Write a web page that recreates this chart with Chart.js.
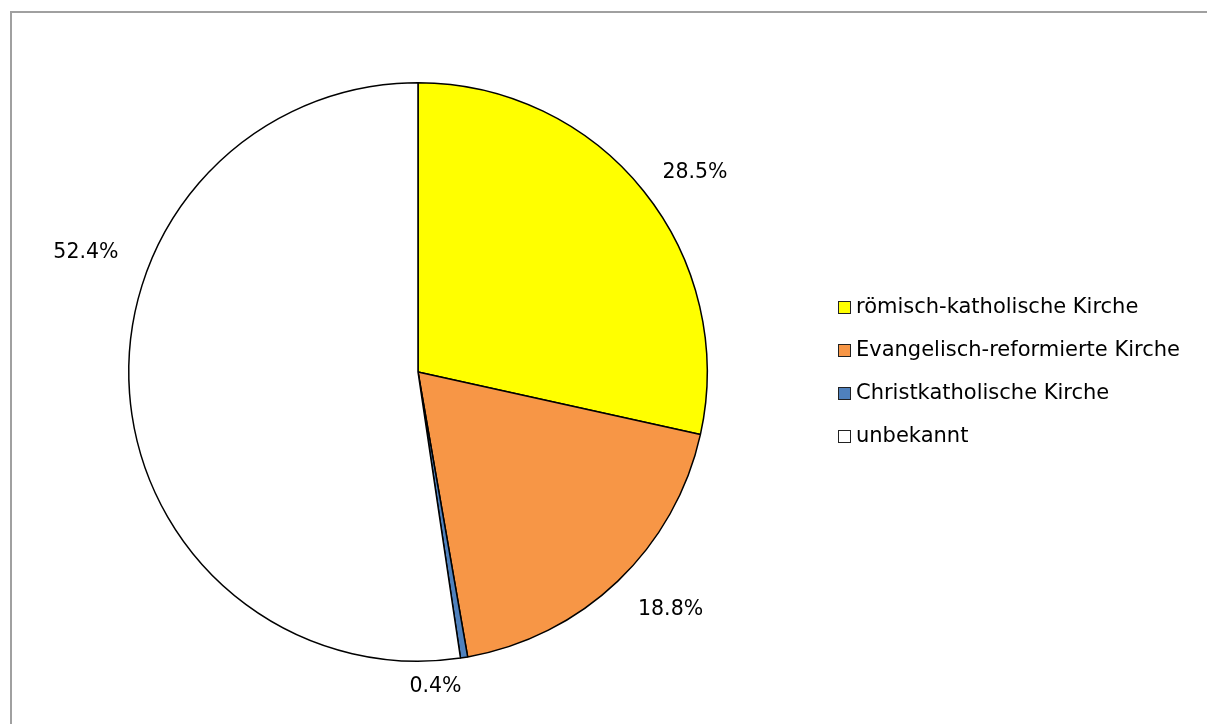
<!DOCTYPE html>
<html>
<head>
<meta charset="utf-8">
<script src="https://cdn.jsdelivr.net/npm/chart.js@4.4.1/dist/chart.umd.min.js"></script>
<style>
    html, body { margin: 0; padding: 0; background: #fff; overflow: hidden; }
    #frame { position: absolute; left: 10px; top: 11px; width: 1300px; height: 800px;
             border-left: 2px solid #a0a0a0; border-top: 2px solid #a0a0a0; }
    #wrap { position: absolute; left: 0; top: 0; width: 1207px; height: 724px; }
</style>
</head>
<body>
<div id="frame"></div>
<div id="wrap"><canvas id="pie"></canvas></div>
<script>
const labels = ["römisch-katholische Kirche", "Evangelisch-reformierte Kirche", "Christkatholische Kirche", "unbekannt"];
const values = [28.5, 18.8, 0.4, 52.4];
const colors = ["#FFFF00", "#F79646", "#4F81BD", "#FFFFFF"];
// where Excel put the percent labels (degrees from the slice middle, distance as factor of radius)
const labelShift = [3, -3, 6, 24];
const labelDist = [1.18, 1.2, 1.09, 1.22];

const legendFont = "21px 'DejaVu Sans'";
const pctFont = "20.5px 'DejaVu Sans'";

// percent labels around the pie
const pctLabels = {
    id: "pctLabels",
    afterDatasetsDraw(chart) {
        const c = chart.ctx;
        const arcs = chart.getDatasetMeta(0).data;
        c.save();
        c.font = pctFont;
        c.fillStyle = "#000";
        c.textAlign = "center";
        c.textBaseline = "middle";
        arcs.forEach((arc, i) => {
            const mid = (arc.startAngle + arc.endAngle) / 2 + labelShift[i] * Math.PI / 180;
            const r = arc.outerRadius * labelDist[i];
            c.fillText(values[i].toFixed(1) + "%", arc.x + Math.cos(mid) * r, arc.y + Math.sin(mid) * r);
        });
        c.restore();
    }
};

// Excel style legend at the right
const sideLegend = {
    id: "sideLegend",
    afterDraw(chart) {
        const c = chart.ctx;
        const x = 838, y0 = 307, step = 43;
        c.save();
        c.font = legendFont;
        c.textBaseline = "middle";
        labels.forEach((l, i) => {
            const y = y0 + i * step;
            c.fillStyle = colors[i];
            c.fillRect(x, y - 6, 12, 12);
            c.strokeStyle = "#222";
            c.lineWidth = 1;
            c.strokeRect(x + 0.5, y - 5.5, 12, 12);
            c.fillStyle = "#000";
            c.fillText(l, x + 18, y + 1);
        });
        c.restore();
    }
};

const ctx = document.getElementById("pie");
const chart = new Chart(ctx, {
    type: "pie",
    data: {
        labels: labels,
        datasets: [{
            data: values,
            backgroundColor: colors,
            borderColor: "#000",
            borderWidth: 1.5,
        }],
    },
    options: {
        responsive: true,
        maintainAspectRatio: false,
        animation: false,
        layout: { padding: { left: 128, right: 499, top: 82, bottom: 62 } },
        plugins: {
            legend: { display: false },
            tooltip: { enabled: false },
        },
    },
    plugins: [pctLabels, sideLegend],
});
</script>
</body>
</html>
